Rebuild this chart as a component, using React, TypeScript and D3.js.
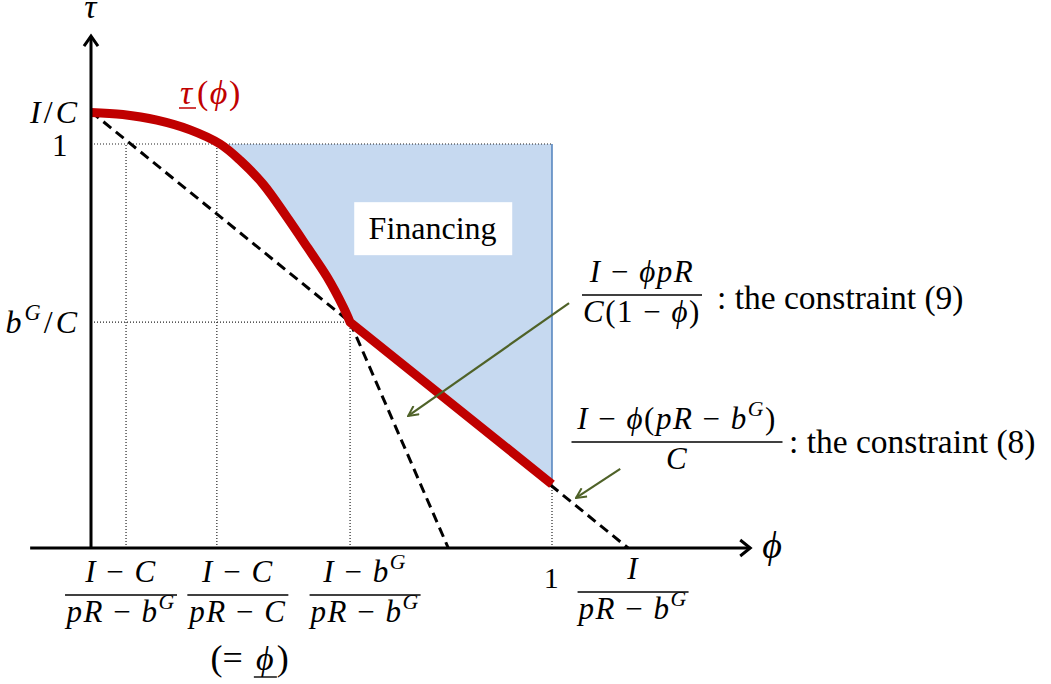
import * as d3 from 'd3'

const W = 1051
const H = 684
const FONT = "'Liberation Serif', 'Times New Roman', serif"

// points on the horizontal axis (phi)
const phiTicks = [0.076, 0.273, 0.562, 1]
const phiMaxC8 = 1.165 // I / (pR - b^G)
const phiMaxC9 = 0.775 // where constraint (9) reaches zero
// points on the vertical axis (tau)
const tauIC = 1.08
const tauOne = 1
const tauBG = 0.559
const tauAtOne = 0.158

// lower bound tau(phi)
const redPhi = [0, 0.069, 0.143, 0.215, 0.28, 0.323, 0.373, 0.425, 0.469, 0.512, 0.547, 0.562]
const redTau = [1.078, 1.073, 1.059, 1.035, 1.0, 0.96, 0.901, 0.819, 0.745, 0.671, 0.597, 0.559]
const tailPhi = [0.562, 1]
const tailTau = [0.559, 0.158]

// dashed constraints
const c8Phi = [0, phiMaxC8]
const c8Tau = [tauIC, 0]
const c9Phi = [0.562, phiMaxC9]
const c9Tau = [tauBG, 0]

// green pointers [phi0, tau0, phi1, tau1]
const pointers = [
  [1.037, 0.606, 0.688, 0.327],
  [1.148, 0.196, 1.052, 0.124],
]

type Seg = { t: string; it?: boolean; sup?: boolean }
const it = (t: string): Seg => ({ t, it: true })
const rm = (t: string): Seg => ({ t })
const sup = (t: string): Seg => ({ t, it: true, sup: true })
const M = rm(' \u2212 ')

const tickFracs = [
  { num: [it('I'), M, it('C')], den: [it('pR'), M, it('b'), sup('G')] },
  { num: [it('I'), M, it('C')], den: [it('pR'), M, it('C')] },
  { num: [it('I'), M, it('b'), sup('G')], den: [it('pR'), M, it('b'), sup('G')] },
]

function MathText({ x, y, segs, size, anchor = 'middle', fill = '#000', ls = 1.5 }: {
  x: number; y: number; segs: Seg[]; size: number; anchor?: string; fill?: string; ls?: number
}) {
  let up = false
  return (
    <text x={x} y={y} textAnchor={anchor} fontFamily={FONT} fontSize={size} fill={fill}
      letterSpacing={ls} style={{ whiteSpace: 'pre' }}>
      {segs.map((s, i) => {
        let dy: number | undefined
        if (s.sup && !up) { dy = -size * 0.42; up = true }
        else if (!s.sup && up) { dy = size * 0.42; up = false }
        return (
          <tspan key={i} dy={dy} fontStyle={s.it ? 'italic' : 'normal'}
            fontSize={s.sup ? size * 0.7 : size}>{s.t}</tspan>
        )
      })}
    </text>
  )
}

function Frac({ cx, bar, w, num, den, size = 31 }: {
  cx: number; bar: number; w: number; num: Seg[]; den: Seg[]; size?: number
}) {
  return (
    <g>
      <MathText x={cx} y={bar - 13} segs={num} size={size} />
      <line x1={cx - w / 2} x2={cx + w / 2} y1={bar} y2={bar} stroke="#000" strokeWidth={1.4} />
      <MathText x={cx} y={bar + 27} segs={den} size={size} />
    </g>
  )
}

export default function App() {
  const x = d3.scaleLinear().domain([0, 1]).range([91, 552])
  const y = d3.scaleLinear().domain([0, 1]).range([548, 144])

  const line = d3.line<[number, number]>().x((d) => x(d[0])).y((d) => y(d[1]))
  const smooth = d3.line<[number, number]>().x((d) => x(d[0])).y((d) => y(d[1])).curve(d3.curveCatmullRom.alpha(0.5))

  const red: [number, number][] = redPhi.map((p, i) => [p, redTau[i]])
  const tail: [number, number][] = tailPhi.map((p, i) => [p, tailTau[i]])
  const c8: [number, number][] = c8Phi.map((p, i) => [p, c8Tau[i]])
  const c9: [number, number][] = c9Phi.map((p, i) => [p, c9Tau[i]])

  const upper = red.filter((d) => d[1] <= tauOne)
  const regionPath = smooth(upper)! +
    'L' + [tail[1], [1, tauOne], upper[0]].map((d) => `${x(d[0])},${y(d[1])}`).join('L') + 'Z'

  const dotted = { stroke: '#222', strokeWidth: 1.2, strokeDasharray: '1 2' }
  const xAxis = [-0.132, 1.43]
  const yTop = 1.267
  const xEnd = x(xAxis[1])
  const yEnd = y(yTop)

  return (
    <svg width={W} height={H} style={{ display: 'block', background: '#fff' }}>
      <style>{'body{margin:0}'}</style>
      <defs>
        <marker id="gh" viewBox="0 0 12 12" refX="11" refY="6" markerWidth="12" markerHeight="12"
          markerUnits="userSpaceOnUse" orient="auto">
          <path d="M1,1 L11,6 L1,11" fill="none" stroke="#4f6228" strokeWidth="2" />
        </marker>
      </defs>

      <path d={regionPath} fill="#c6d9f0" />

      {/* dotted guides */}
      <line x1={x(0)} x2={x(1)} y1={y(tauOne)} y2={y(tauOne)} {...dotted} />
      <line x1={x(0)} x2={x(phiTicks[2])} y1={y(tauBG)} y2={y(tauBG)} {...dotted} />
      <line x1={x(phiTicks[0])} x2={x(phiTicks[0])} y1={y(0)} y2={y(tauOne)} {...dotted} />
      <line x1={x(phiTicks[1])} x2={x(phiTicks[1])} y1={y(0)} y2={y(tauOne)} {...dotted} />
      <line x1={x(phiTicks[2])} x2={x(phiTicks[2])} y1={y(0)} y2={y(tauBG)} {...dotted} />
      <line x1={x(1)} x2={x(1)} y1={y(0)} y2={y(tauAtOne)} {...dotted} />

      {/* right edge of financing region */}
      <line x1={x(1)} x2={x(1)} y1={y(tauOne)} y2={y(tauAtOne)} stroke="#4f81bd" strokeWidth={1.5} />

      {/* dashed constraints */}
      <path d={line(c8)!} fill="none" stroke="#000" strokeWidth={3} strokeDasharray="10 6" />
      <path d={line(c9)!} fill="none" stroke="#000" strokeWidth={3} strokeDasharray="10 6" />

      {/* lower bound */}
      <path d={smooth(red)! + line(tail)!.replace('M', 'L')} fill="none" stroke="#c00000" strokeWidth={9} strokeLinejoin="round" />

      {/* axes */}
      <line x1={x(xAxis[0])} x2={xEnd} y1={y(0)} y2={y(0)} stroke="#000" strokeWidth={3} />
      <path d={`M${xEnd - 10},${y(0) - 8}L${xEnd},${y(0)}L${xEnd - 10},${y(0) + 8}`} fill="none" stroke="#000" strokeWidth={3} />
      <line x1={x(0)} x2={x(0)} y1={y(0)} y2={yEnd} stroke="#000" strokeWidth={3} />
      <path d={`M${x(0) - 7},${yEnd + 10}L${x(0)},${yEnd}L${x(0) + 7},${yEnd + 10}`} fill="none" stroke="#000" strokeWidth={3} />

      {/* financing label */}
      <rect x={x(0.571)} y={y(0.856)} width={158} height={53} fill="#fff" />
      <text x={x(0.741)} y={y(0.765)} textAnchor="middle" fontFamily={FONT} fontSize={32}>Financing</text>

      {/* pointers */}
      {pointers.map((p, i) => (
        <line key={i} x1={x(p[0])} y1={y(p[1])} x2={x(p[2])} y2={y(p[3])} stroke="#4f6228" strokeWidth={2.2} markerEnd="url(#gh)" />
      ))}

      {/* axis titles */}
      <MathText x={x(0)} y={18} segs={[it('\u03c4')]} size={34} />
      <MathText x={xEnd + 12} y={y(0) + 10} segs={[it('\u03d5')]} size={38} anchor="start" />

      {/* vertical axis labels */}
      <MathText x={80} y={y(tauIC) + 11} segs={[it('I'), rm('/'), it('C')]} size={32} anchor="end" ls={3} />
      <MathText x={69} y={y(tauOne) + 12} segs={[rm('1')]} size={31} anchor="end" />
      <MathText x={80} y={y(tauBG) + 11} segs={[it('b'), sup('G'), rm('/'), it('C')]} size={32} anchor="end" ls={3} />

      {/* horizontal axis labels */}
      <Frac cx={x(phiTicks[0]) - 5} bar={595} w={112} num={tickFracs[0].num} den={tickFracs[0].den} />
      <Frac cx={x(phiTicks[1]) + 21} bar={595} w={101} num={tickFracs[1].num} den={tickFracs[1].den} />
      <Frac cx={x(phiTicks[2]) + 15} bar={595} w={111} num={tickFracs[2].num} den={tickFracs[2].den} />
      <text x={x(phiTicks[1]) + 35} y={670} textAnchor="end" fontFamily={FONT} fontSize={36} style={{ whiteSpace: 'pre' }}>(= </text>
      <text x={x(phiTicks[1]) + 48} y={670} textAnchor="middle" fontFamily={FONT} fontSize={34} fontStyle="italic">{'\u03d5'}</text>
      <line x1={x(phiTicks[1]) + 37} x2={x(phiTicks[1]) + 60} y1={677} y2={677} stroke="#000" strokeWidth={1.4} />
      <text x={x(phiTicks[1]) + 60} y={670} fontFamily={FONT} fontSize={36}>)</text>
      <MathText x={x(1)} y={588} segs={[rm('1')]} size={30} />
      <Frac cx={x(phiMaxC8) + 5} bar={592} w={111} num={[it('I')]} den={tickFracs[0].den} />

      {/* red label */}
      <text x={180} y={104} fontFamily={FONT} fontSize={34} fontStyle="italic" fill="#c00000">{'\u03c4'}</text>
      <line x1={179} x2={196} y1={108} y2={108} stroke="#c00000" strokeWidth={1.5} />
      <MathText x={197} y={104} segs={[rm('('), it('\u03d5'), rm(')')]} size={34} anchor="start" fill="#c00000" />

      {/* constraint labels */}
      <Frac cx={642} bar={295} w={120} num={[it('I'), M, it('\u03d5pR')]} den={[it('C'), rm('(1'), M, it('\u03d5'), rm(')')]} />
      <text x={717} y={309} fontFamily={FONT} fontSize={33.5} style={{ whiteSpace: 'pre' }}>: the constraint (9)</text>
      <Frac cx={677} bar={442} w={211} num={[it('I'), M, it('\u03d5'), rm('('), it('pR'), M, it('b'), sup('G'), rm(')')]} den={[it('C')]} />
      <text x={789} y={453} fontFamily={FONT} fontSize={33.5} style={{ whiteSpace: 'pre' }}>: the constraint (8)</text>
    </svg>
  )
}
